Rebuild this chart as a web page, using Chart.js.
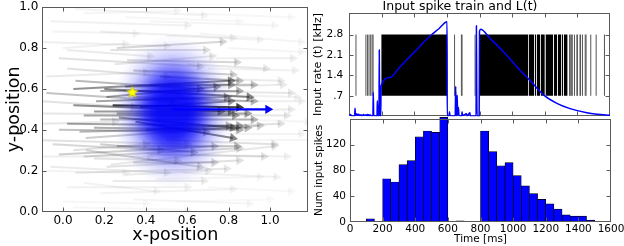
<!DOCTYPE html>
<html><head><meta charset="utf-8">
<script src="https://cdn.jsdelivr.net/npm/chart.js@4.4.1/dist/chart.umd.min.js"></script>
<style>
html,body{margin:0;padding:0;background:#fff;}
body{width:624px;height:246px;position:relative;overflow:hidden;}
canvas{position:absolute;display:block;}
</style></head><body>
<canvas id="c1" width="318" height="246" style="left:0;top:0;width:318px;height:246px"></canvas>
<canvas id="c3" width="314" height="130" style="left:310px;top:116px;width:314px;height:130px"></canvas>
<canvas id="c2" width="314" height="118" style="left:310px;top:0;width:314px;height:118px"></canvas>
<script>
// ================= LEFT PANEL DATA =================
const xTicksLeft = [0, 0.2, 0.4, 0.6, 0.8, 1.0];
const yTicksLeft = [0, 0.2, 0.4, 0.6, 0.8, 1.0];
// arrows (start -> end) and their weight (darkness)
const arrowX0 = [0.06,-0.06,0.18,-0.13,0.26,0.23,0.31,-0.02,0.60,0.34,0.47,0.69,0.42,0.66,0.02,0.74,
  0.05,0.18,0.20,0.16,0.24,0.05,0.15,0.26,0.10,0.02,0.08,0.35,-0.02,0.11,-0.10,-0.15,-0.08,0.06,0.53,0.60,0.42,0.34,0.18,0.50,0.66,
  0.18,0.26,-0.02,0.10,0.23,0.11,0.21,0.34,0.06,0.24,0.02,0.18,-0.06,0.42,0.50,-0.15,0.58,0.34,0.05,
  0.27,0.15,0.37,0.21,0.30,-0.05,-0.11,0.82,0.74,0.02,
  0.10,0.30,0.60,-0.05,0.50,0.00,0.80,0.25,0.70,-0.08,0.75,-0.10,0.85,0.80,-0.08,0.60,0.10,0.45,0.70,0.00,0.55,0.15,0.30,0.05,0.40];
const arrowY0 = [0.99,0.93,0.88,0.83,0.80,0.79,0.74,0.75,0.72,0.69,0.66,0.65,0.93,0.87,0.79,0.75,
  0.60,0.59,0.60,0.54,0.52,0.52,0.49,0.48,0.47,0.43,0.39,0.44,0.40,0.36,0.48,0.35,0.58,0.64,0.59,0.54,0.62,0.56,0.45,0.41,0.49,
  0.33,0.32,0.28,0.27,0.23,0.30,0.22,0.24,0.19,0.15,0.12,0.09,0.22,0.28,0.35,0.27,0.19,0.06,0.02,
  0.46,0.41,0.51,0.56,0.61,0.33,0.54,0.35,0.61,0.70,
  0.97,0.95,0.97,0.88,0.86,0.80,0.80,0.72,0.70,0.66,0.57,0.43,0.45,0.38,0.20,0.28,0.14,0.16,0.12,0.05,0.05,0.26,0.18,0.30,0.40];
const arrowX1 = [0.68,0.60,0.82,0.50,0.77,0.69,0.84,0.66,0.98,0.82,0.85,1.05,1.02,1.15,0.42,1.11,
  0.81,0.85,0.90,0.79,0.85,0.81,0.76,0.89,0.83,0.85,0.89,0.82,0.69,0.95,1.08,0.60,0.53,0.66,1.10,1.15,0.92,0.92,0.92,1.05,1.10,
  0.63,0.84,0.73,0.85,1.02,0.66,0.85,0.73,0.79,0.68,0.60,0.82,0.50,0.97,1.02,0.42,1.03,0.90,0.60,
  0.82,0.85,0.81,0.74,0.81,0.47,0.34,1.19,1.06,0.50,
  0.55,0.85,1.10,0.35,0.95,0.30,1.15,0.72,1.12,0.40,1.13,0.25,1.18,1.15,0.30,1.08,0.45,0.95,1.10,0.40,1.00,0.55,0.70,0.40,0.80];
const arrowY1 = [0.96,0.91,0.85,0.81,0.83,0.79,0.73,0.71,0.70,0.67,0.64,0.64,0.91,0.83,0.76,0.75,
  0.64,0.59,0.56,0.56,0.51,0.49,0.49,0.48,0.47,0.42,0.41,0.36,0.39,0.42,0.47,0.33,0.54,0.60,0.58,0.54,0.62,0.54,0.45,0.43,0.50,
  0.29,0.32,0.32,0.31,0.32,0.22,0.25,0.24,0.21,0.15,0.12,0.11,0.19,0.27,0.33,0.27,0.17,0.04,0.01,
  0.41,0.40,0.54,0.61,0.62,0.30,0.51,0.35,0.62,0.66,
  0.98,0.93,0.95,0.87,0.84,0.82,0.78,0.76,0.69,0.68,0.56,0.44,0.44,0.38,0.19,0.27,0.10,0.17,0.10,0.04,0.06,0.25,0.20,0.33,0.42];
const arrowWeight = [0.06,0.07,0.08,0.08,0.2,0.15,0.2,0.15,0.12,0.25,0.3,0.1,0.05,0.05,0.1,0.08,
  0.55,0.4,0.6,0.45,0.95,0.55,0.5,0.45,0.45,0.45,0.35,0.6,0.3,0.25,0.12,0.15,0.3,0.35,0.12,0.08,0.3,0.35,0.35,0.15,0.1,
  0.25,0.3,0.25,0.2,0.12,0.2,0.15,0.2,0.12,0.1,0.07,0.06,0.1,0.15,0.15,0.08,0.07,0.05,0.04,
  0.5,0.4,0.5,0.45,0.4,0.2,0.15,0.05,0.1,0.15,
  0.05,0.04,0.04,0.06,0.06,0.07,0.05,0.12,0.07,0.1,0.07,0.12,0.05,0.06,0.06,0.07,0.06,0.05,0.04,0.04,0.03,0.15,0.1,0.15,0.35];
const blobCenter = [0.53, 0.49];   // centre of the blue input field
const blobSpread = [0.10, 0.125];  // its spread (sd) in x and y
const targetStart = [0.53, 0.50];
const targetEnd = [0.99, 0.50];
const starPos = [0.335, 0.583];

// ================= TOP RIGHT DATA =================
const rateTicks = [0.7, 1.4, 2.1, 2.8];
const rateTickLabels = ['.7', '1.4', '2.1', '2.8'];
const rasterLow = 0.7, rasterHigh = 2.8;
const spikeTimes = [41,102,112,121,131,140,146,646,688,692,772,
  1352,1356,1365,1368,1382,1397,1400,1416,1419,1431,1448,1453,1482,1515,1566];
const burstStarts = [196,797,1100,1138,1151,1176,1204,1255,1279,1303,1316];
const burstEnds   = [601,1097,1135,1148,1173,1200,1251,1275,1300,1312,1340];
const lTimes = [0,8,12,33,35,38,45,48,58,62,72,76,88,92,104,108,113,117,121,125,130,135,145,147,150,158,170,172,175,182,184,187,193,
  195,250,300,350,400,450,500,550,600,601,612,615,618,650,653,656,660,662,665,670,673,690,692,695,720,723,740,743,778,780,782,784,797,799,806,
  864,946,1028,1110,1192,1274,1355,1458,1520,1600];
const lValues = [0.03,0.06,0.02,0.0,0.27,0.04,0.08,0.02,0.07,0.02,0.05,0.01,0.06,0.02,0.05,0.01,0.06,0.01,0.05,0.01,0.04,0.01,0.0,0.82,0.04,0.0,0.0,0.53,0.03,0.0,2.27,0.05,0.0,
  1.04,1.33,1.62,1.92,2.20,2.50,2.77,3.00,3.24,0.0,0.02,0.15,0.02,0.0,1.02,0.08,0.0,0.72,0.06,0.30,0.02,0.0,0.15,0.02,0.08,0.0,0.12,0.0,0.0,3.10,1.20,0.0,0.0,2.90,2.98,
  2.67,2.21,1.70,1.22,0.73,0.44,0.26,0.12,0.07,0.03];

// ================= BOTTOM RIGHT DATA =================
const binWidth = 50;
const binStarts = [0,50,100,150,200,250,300,350,400,450,500,550,600,650,700,750,800,850,900,950,1000,1050,1100,1150,1200,1250,1300,1350,1400,1450,1500,1550];
const binCounts = [1,0,5,0,67,62,89,95,132,141,139,162,1,2,0,1,141,109,87,92,72,56,44,35,28,20,11,9,9,3,1,0];
const timeTicks = [0,200,400,600,800,1000,1200,1400,1600];
const countTicks = [0,40,80,120];

// ================= HELPERS =================
Chart.defaults.font.family = "'DejaVu Sans', sans-serif";
Chart.defaults.color = '#000';

function drawFrame(chart){
  const {ctx, chartArea:a} = chart;
  const xs = chart.scales.x, ys = chart.scales.y;
  ctx.save();
  ctx.strokeStyle = '#5a5a5a'; ctx.lineWidth = 1;
  const L = Math.round(a.left)+0.5, R = Math.round(a.right)-0.5, T = Math.round(a.top)+0.5, B = Math.round(a.bottom)-0.5;
  ctx.strokeRect(L, T, R-L, B-T);
  ctx.beginPath();
  xs.ticks.forEach(t => { if (t.value <= xs.min || t.value >= xs.max) return;
    const p = Math.round(xs.getPixelForValue(t.value))+0.5;
    ctx.moveTo(p,B); ctx.lineTo(p,B-4); ctx.moveTo(p,T); ctx.lineTo(p,T+4); });
  ys.ticks.forEach(t => { if (t.value <= ys.min || t.value >= ys.max) return;
    const p = Math.round(ys.getPixelForValue(t.value))+0.5;
    ctx.moveTo(L,p); ctx.lineTo(L+4,p); ctx.moveTo(R,p); ctx.lineTo(R-4,p); });
  ctx.stroke();
  ctx.restore();
}
const framePlugin = {
  id: 'frame',
  beforeDatasetsDraw(chart, args, opts){ if (!opts.onTop) drawFrame(chart); },
  afterDraw(chart, args, opts){ if (opts.onTop) drawFrame(chart); }
};
const blobPlugin = {
  id: 'blob',
  beforeDatasetDraw(chart, args){
    if (chart.data.datasets[args.index].label !== 'target') return;
    const {ctx, chartArea:a} = chart; const xs = chart.scales.x, ys = chart.scales.y;
    const cx = xs.getPixelForValue(blobCenter[0]), cy = ys.getPixelForValue(blobCenter[1]);
    const rx = Math.abs(xs.getPixelForValue(blobCenter[0]+3*blobSpread[0]) - cx);
    const ry = Math.abs(ys.getPixelForValue(blobCenter[1]+3*blobSpread[1]) - cy);
    ctx.save();
    ctx.beginPath(); ctx.rect(a.left, a.top, a.right-a.left, a.bottom-a.top); ctx.clip();
    ctx.translate(cx, cy); ctx.scale(1, ry/rx);
    const g = ctx.createRadialGradient(0,0,0,0,0,rx);
    const st = [[0,0.93],[0.25,0.92],[0.35,0.85],[0.45,0.7],[0.55,0.5],[0.65,0.3],[0.75,0.16],[0.85,0.07],[0.93,0.025],[1,0]];
    st.forEach(([o,al]) => g.addColorStop(o, `rgba(0,0,250,${al})`));
    ctx.fillStyle = g; ctx.beginPath(); ctx.arc(0,0,rx,0,Math.PI*2); ctx.fill();
    ctx.restore();
  }
};
function makeStar(r){
  const c = document.createElement('canvas'); c.width = c.height = 2*r+2;
  const g = c.getContext('2d'); g.beginPath();
  for (let k=0;k<10;k++){ const an = -Math.PI/2 + k*Math.PI/5; const rr = k%2 ? r*0.45 : r;
    g.lineTo(r+1+rr*Math.cos(an), r+1+rr*Math.sin(an)); }
  g.closePath(); g.fillStyle = '#ffff00'; g.fill(); g.strokeStyle = '#c8b800'; g.lineWidth = 0.7; g.stroke();
  return c;
}
const gray = w => `rgba(20,20,20,${Math.min(0.85, w*0.85)})`;
const setTicks = arr => (s => { s.ticks = arr.map(v => ({value: v})); });

// ================= LEFT CHART =================
const shaftData = [];
arrowX0.forEach((x, i) => { shaftData.push({x: arrowX0[i], y: arrowY0[i]}, {x: arrowX1[i], y: arrowY1[i]}, {x: arrowX1[i], y: null}); });
const headData = arrowX1.map((x, i) => ({x: x, y: arrowY1[i]}));
function headAngle(chart, x0, y0, x1, y1){
  const xs = chart.scales.x, ys = chart.scales.y;
  const dx = xs.getPixelForValue(x1) - xs.getPixelForValue(x0);
  const dy = ys.getPixelForValue(y1) - ys.getPixelForValue(y0);
  return Math.atan2(dy, dx)*180/Math.PI + 90;
}
new Chart(document.getElementById('c1'), {
  type: 'scatter',
  data: { datasets: [
    { label: 'star', data: [{x: starPos[0], y: starPos[1]}], pointStyle: makeStar(6), pointRadius: 6 },
    { label: 'targetHead', data: [{x: targetEnd[0], y: targetEnd[1]}], pointStyle: 'triangle', pointRadius: 5.3,
      pointRotation: 90, pointBackgroundColor: '#0000ff', pointBorderWidth: 0 },
    { label: 'target', data: [{x: targetStart[0], y: targetStart[1]}, {x: targetEnd[0], y: targetEnd[1]}],
      showLine: true, borderColor: '#0000ff', borderWidth: 2.2, pointRadius: 0 },
    { label: 'heads', data: headData, pointStyle: 'triangle', pointRadius: 5.3, pointBorderWidth: 0,
      pointBackgroundColor: c => gray(arrowWeight[c.dataIndex]),
      pointRotation: c => headAngle(c.chart, arrowX0[c.dataIndex], arrowY0[c.dataIndex], arrowX1[c.dataIndex], arrowY1[c.dataIndex]) },
    { label: 'shafts', data: shaftData, showLine: true, spanGaps: false, pointRadius: 0, borderWidth: 2,
      borderColor: 'rgba(0,0,0,0.2)', segment: { borderColor: c => gray(arrowWeight[Math.floor(c.p0DataIndex/3)]) } }
  ]},
  options: {
    responsive: false, devicePixelRatio: 1, animation: false, events: [],
    layout: { padding: { top: 6, right: 9.7, left: 0, bottom: 0 } },
    plugins: { legend: {display: false}, tooltip: {enabled: false}, frame: {onTop: true} },
    scales: {
      x: { type: 'linear', min: -0.1, max: 1.185, offset: false,
        grid: {display: false, drawTicks: false}, border: {display: false},
        ticks: {font: {size: 12}, color: '#000', padding: 2, maxRotation: 0, autoSkip: false, callback: v => v.toFixed(1)},
        afterBuildTicks: setTicks(xTicksLeft),
        afterFit: s => { s.height = 34.3; s.paddingLeft = 0; s.paddingRight = 0; },
        title: {display: true, text: 'x-position', font: {size: 17.5}, color: '#000', padding: {top: 0, bottom: 0}} },
      y: { type: 'linear', min: 0, max: 1,
        grid: {display: false, drawTicks: false}, border: {display: false},
        ticks: {font: {size: 12}, color: '#000', padding: 4, autoSkip: false, callback: v => v.toFixed(1)},
        afterBuildTicks: setTicks(yTicksLeft),
        afterFit: s => { s.width = 42.3; s.paddingTop = 0; s.paddingBottom = 0; },
        title: {display: true, text: 'y-position', font: {size: 17.5}, color: '#000', padding: {top: 3.5, bottom: 0}} }
    }
  },
  plugins: [framePlugin, blobPlugin]
});

// ================= TOP RIGHT CHART =================
const spikeData = [];
spikeTimes.forEach(t => { spikeData.push({x: t, y: rasterLow}, {x: t, y: rasterHigh}, {x: t, y: null}); });
const burstSets = burstStarts.map((s, i) => ({
  type: 'line', label: 'burst' + i, data: [{x: s, y: rasterHigh}, {x: burstEnds[i], y: rasterHigh}],
  borderWidth: 0, pointRadius: 0, backgroundColor: '#000', fill: {value: rasterLow}
}));
new Chart(document.getElementById('c2'), {
  type: 'scatter',
  data: { datasets: [
    { type: 'line', label: 'L(t)', data: lTimes.map((t, i) => ({x: t, y: lValues[i]})), borderColor: '#0000ff',
      borderWidth: 1.5, pointRadius: 0, cubicInterpolationMode: 'monotone', fill: false },
    { label: 'spikes', data: spikeData, showLine: true, spanGaps: false, borderColor: '#555', borderWidth: 1, pointRadius: 0 },
    ...burstSets
  ]},
  options: {
    responsive: false, devicePixelRatio: 1, animation: false, events: [],
    layout: { padding: { top: 0, right: 14, left: 0, bottom: 0 } },
    plugins: { legend: {display: false}, tooltip: {enabled: false}, frame: {onTop: false},
      title: {display: true, text: 'Input spike train and L(t)', color: '#000',
        font: {size: 12.5, weight: 'normal', lineHeight: 1}, padding: {top: 0, bottom: 0.2}} },
    scales: {
      x: { type: 'linear', min: 0, max: 1600, offset: false,
        grid: {display: false, drawTicks: false}, border: {display: false}, ticks: {display: false},
        afterBuildTicks: setTicks(timeTicks),
        afterFit: s => { s.height = 1.8; s.paddingLeft = 0; s.paddingRight = 0; } },
      y: { type: 'linear', min: 0, max: 3.55,
        grid: {display: false, drawTicks: false}, border: {display: false},
        ticks: {font: {size: 10.5}, color: '#000', padding: 6, autoSkip: false,
          callback: v => rateTickLabels[rateTicks.indexOf(v)]},
        afterBuildTicks: setTicks(rateTicks),
        afterFit: s => { s.width = 39.3; s.paddingTop = 0; s.paddingBottom = 0; },
        title: {display: true, text: 'Input rate (t) [kHz]', font: {size: 11}, color: '#000', padding: {top: 1.7, bottom: 0}} }
    }
  },
  plugins: [framePlugin]
});

// ================= BOTTOM RIGHT CHART =================
new Chart(document.getElementById('c3'), {
  type: 'bar',
  data: { datasets: [
    { label: 'counts', data: binStarts.map((s, i) => ({x: s + binWidth/2, y: binCounts[i]})),
      backgroundColor: '#0000ff', borderColor: '#000', borderWidth: 0.7,
      barPercentage: 1, categoryPercentage: 1, clip: false }
  ]},
  options: {
    responsive: false, devicePixelRatio: 1, animation: false, events: [],
    layout: { padding: { top: 2.7, right: 13, left: 0, bottom: 0 } },
    plugins: { legend: {display: false}, tooltip: {enabled: false}, frame: {onTop: true} },
    scales: {
      x: { type: 'linear', min: 0, max: 1600, offset: false,
        grid: {display: false, drawTicks: false, offset: false}, border: {display: false},
        ticks: {font: {size: 10.5}, color: '#000', padding: 1, maxRotation: 0, autoSkip: false, callback: v => String(v)},
        afterBuildTicks: setTicks(timeTicks),
        afterFit: s => { s.height = 24; s.paddingLeft = 0; s.paddingRight = 0; },
        title: {display: true, text: 'Time [ms]', font: {size: 10.5}, color: '#000', padding: {top: 0, bottom: 0}} },
      y: { type: 'linear', min: 0, max: 160,
        grid: {display: false, drawTicks: false}, border: {display: false},
        ticks: {font: {size: 10.5}, color: '#000', padding: 4, autoSkip: false, callback: v => String(v)},
        afterBuildTicks: setTicks(countTicks),
        afterFit: s => { s.width = 40; s.paddingTop = 0; s.paddingBottom = 0; },
        title: {display: true, text: 'Num input spikes', font: {size: 10.5}, color: '#000', padding: {top: 3.4, bottom: 0}} }
    }
  },
  plugins: [framePlugin]
});
</script>
</body></html>
